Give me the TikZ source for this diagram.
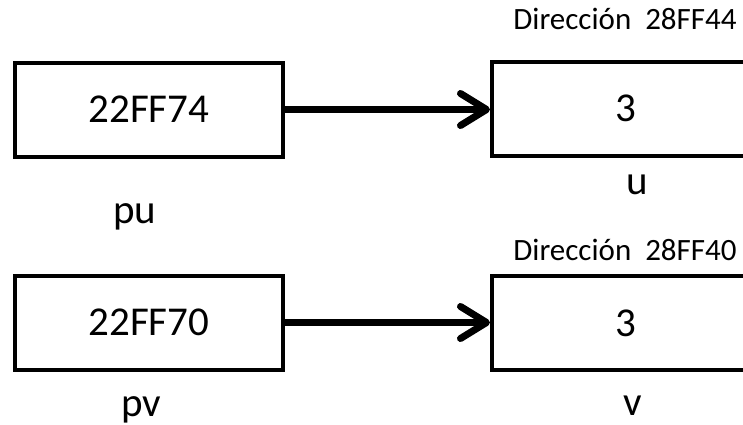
\documentclass[tikz,border=0pt]{standalone}
\usepackage{fontspec}
\setmainfont{Carlito}
\usetikzlibrary{calc,arrows.meta}

\tikzset{
    cell/.style={draw, line width=4pt, minimum width=268pt, minimum height=94pt,
        inner sep=0pt, font=\fontsize{41}{49}\selectfont},
    varname/.style={anchor=base, inner sep=0pt, font=\fontsize{41}{49}\selectfont},
    addr/.style={anchor=base, inner sep=0pt, font=\fontsize{31}{37}\selectfont},
    ptr/.style={line width=7pt, -{Straight Barb[length=26pt, width=32pt, round]}}
}

\begin{document}
\begin{tikzpicture}[x=1pt, y=-1pt]
            \useasboundingbox (0, 0) rectangle (743, 424);

            \node [cell] (pu) at (149, 109.5) {22FF74};
            \node [cell] (u) at ($(pu) + (477, -1)$) {3};
            \node [cell] (pv) at ($(pu) + (0, 213)$) {22FF70};
            \node [cell] (v) at ($(pv) + (477, 0.5)$) {3};

            \node [varname] (pu name) at ($(pu.south) + (-14, 65)$) {pu};
            \node [varname] (u name) at ($(u.south) + (11, 37)$) {u};
            \node [varname] (pv name) at ($(pv.south) + (-8, 45)$) {pv};
            \node [varname] (v name) at ($(v.south) + (7, 43)$) {v};

            \node [addr] (u addr) at ($(u.north) + (-1, -30)$) {Dirección\ \ 28FF44};
            \node [addr] (v addr) at ($(v.north) + (-1, -14)$) {Dirección\ \ 28FF40};

            \draw [ptr] (pu.east) -- (pu.east -| u.west);
            \draw [ptr] (pv.east) -- (pv.east -| v.west);
        \end{tikzpicture}
\end{document}
